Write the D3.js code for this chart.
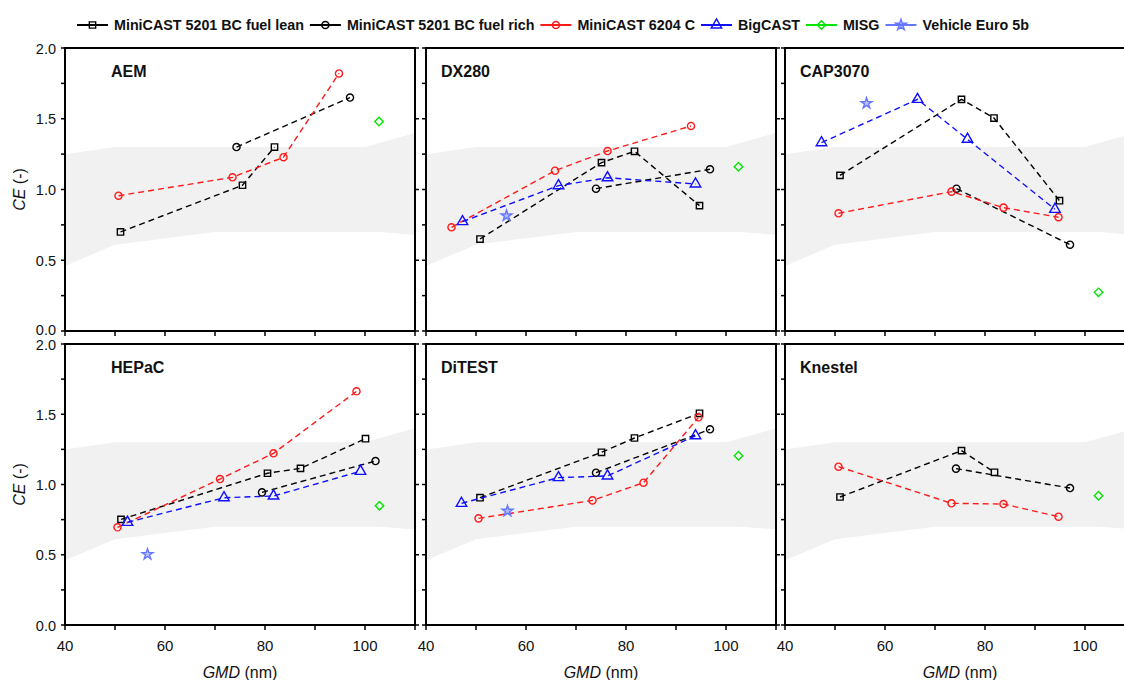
<!DOCTYPE html>
<html><head><meta charset="utf-8">
<script src="https://cdn.jsdelivr.net/npm/d3@7"></script>
<style>body{margin:0;background:#fff}svg{display:block;font-family:"Liberation Sans",Arial,sans-serif}</style>
</head><body><svg id="c" width="1124" height="680"></svg>
<script>
// ---------- data ----------
const panelNames = ["AEM","DX280","CAP3070","HEPaC","DiTEST","Knestel"];
const seriesNames = ["MiniCAST 5201 BC fuel lean","MiniCAST 5201 BC fuel rich","MiniCAST 6204 C","BigCAST","MISG","Vehicle Euro 5b"];
// per panel: GMD (nm) and CE (-)
const leanGMD = [[51.1,75.5,81.9],[50.8,75.1,81.7,94.7],[51.0,75.3,81.8,94.9],[51.2,80.5,87.1,100.1],[50.8,75.1,81.7,94.7],[51.0,75.3,81.9]];
const leanCE  = [[0.70,1.03,1.30],[0.65,1.19,1.27,0.886],[1.10,1.637,1.505,0.921],[0.752,1.08,1.115,1.326],[0.906,1.229,1.331,1.507],[0.911,1.241,1.087]];
const richGMD = [[74.3,97.0],[74.0,96.8],[74.3,97.0],[79.4,102.1],[74.0,96.8],[74.2,97.0]];
const richCE  = [[1.30,1.65],[1.006,1.143],[1.006,0.61],[0.944,1.167],[1.084,1.393],[1.113,0.975]];
const c6204GMD = [[50.7,73.5,83.7,94.8],[45.1,65.8,76.3,93.0],[50.7,73.3,83.7,94.7],[50.5,71.0,81.7,98.3],[50.5,73.3,83.5,94.5],[50.7,73.3,83.7,94.7]];
const c6204CE  = [[0.956,1.086,1.228,1.82],[0.733,1.133,1.272,1.449],[0.832,0.985,0.872,0.804],[0.695,1.039,1.222,1.663],[0.759,0.887,1.013,1.478],[1.127,0.866,0.861,0.771]];
const bigGMD = [[],[47.3,66.5,76.3,93.9],[47.3,66.5,76.5,94.0],[52.5,71.8,81.7,99.1],[47.1,66.5,76.3,93.9],[]];
const bigCE  = [[],[0.773,1.027,1.083,1.039],[1.331,1.637,1.355,0.86],[0.731,0.906,0.918,1.094],[0.866,1.049,1.061,1.347],[]];
const misgGMD = [[102.8],[102.5],[102.7],[102.9],[102.5],[102.7]];
const misgCE  = [[1.48],[1.161],[0.273],[0.849],[1.205],[0.920]];
const vehGMD = [[],[56.1],[56.3],[56.5],[56.3],[]];
const vehCE  = [[],[0.815],[1.609],[0.503],[0.811],[]];
// grey band
const bandUpGMD = [40,50,100,110];
const bandUpCE  = [1.25,1.30,1.30,1.40];
const bandLoGMD = [40,50,70,103,110];
const bandLoCE  = [0.46,0.61,0.70,0.70,0.68];
const xMajor = [40,60,80,100];
const xMinor = [50,70,90,110];
const yMajor = [0,0.5,1.0,1.5,2.0];
const yMinor = [0.25,0.75,1.25,1.75];

// ---------- styles ----------
const sty = [
 {color:"#000",sym:"square",line:true},
 {color:"#000",sym:"circle",line:true},
 {color:"#ff1a1a",sym:"circle",line:true},
 {color:"#1010ff",sym:"triangle",line:true},
 {color:"#00e600",sym:"diamond",line:false},
 {color:"#6677ff",sym:"star",line:false}
];
const seriesGMD=[leanGMD,richGMD,c6204GMD,bigGMD,misgGMD,vehGMD];
const seriesCE=[leanCE,richCE,c6204CE,bigCE,misgCE,vehCE];

const svg=d3.select("#c");
const colX=[65,426,785], W=350;
const rowY=[[48,331],[344,625]];

function symPath(s){
  if(s==="square") return d3.symbol(d3.symbolSquare,40)();
  if(s==="circle") return d3.symbol(d3.symbolCircle,40)();
  if(s==="triangle") return d3.symbol(d3.symbolTriangle,48)();
  if(s==="diamond") return d3.symbol(d3.symbolSquare,36)();
  if(s==="star") return d3.symbol(d3.symbolStar,36)();
}
function drawMarker(g,x,y,st){
  g.append("path").attr("d",symPath(st.sym))
   .attr("transform",`translate(${x},${y})`+(st.sym==="diamond"?" rotate(45)":""))
   .attr("fill",st.sym==="star"?st.color:"none").attr("fill-opacity",st.sym==="star"?0.45:1)
   .attr("stroke",st.color).attr("stroke-width",1.4);
}

panelNames.forEach((name,i)=>{
  const c=i%3, r=Math.floor(i/3);
  const x0=colX[c], y0=rowY[r][0], y1=rowY[r][1];
  const x=d3.scaleLinear().domain([40,110]).range([x0,x0+W]);
  const y=d3.scaleLinear().domain([0,2]).range([y1,y0]);
  const g=svg.append("g");
  const cid="clip"+i;
  g.append("clipPath").attr("id",cid).append("rect").attr("x",x0).attr("y",y0).attr("width",W).attr("height",y1-y0);
  // band
  const up=bandUpGMD.map((v,k)=>[x(v),y(bandUpCE[k])]);
  const lo=bandLoGMD.map((v,k)=>[x(v),y(bandLoCE[k])]).reverse();
  g.append("path").attr("d","M"+up.concat(lo).map(p=>p.join(",")).join("L")+"Z")
   .attr("fill","#f1f1f1").attr("clip-path",`url(#${cid})`);
  // series
  const line=d3.line().x(d=>x(d[0])).y(d=>y(d[1]));
  sty.forEach((st,s)=>{
    const pts=seriesGMD[s][i].map((v,k)=>[v,seriesCE[s][i][k]]);
    if(st.line && pts.length>1)
      g.append("path").attr("d",line(pts)).attr("fill","none").attr("stroke",st.color)
       .attr("stroke-width",1.4).attr("stroke-dasharray","6,4");
    pts.forEach(p=>drawMarker(g,x(p[0]),y(p[1]),st));
  });
  // frame
  g.append("rect").attr("x",x0).attr("y",y0).attr("width",W).attr("height",y1-y0)
   .attr("fill","none").attr("stroke","#000").attr("stroke-width",2);
  // ticks
  const tk=g.append("g").attr("stroke","#000").attr("stroke-width",1.5);
  xMajor.concat(xMinor).forEach(v=>tk.append("line").attr("x1",x(v)).attr("x2",x(v)).attr("y1",y1).attr("y2",y1+5));
  yMajor.concat(yMinor).forEach(v=>tk.append("line").attr("x1",x0).attr("x2",x0-4).attr("y1",y(v)).attr("y2",y(v)));
  yMajor.forEach(v=>tk.append("line").attr("x1",x0+W).attr("x2",x0+W+4).attr("y1",y(v)).attr("y2",y(v)));
  if(c===0){
    yMajor.forEach(v=>g.append("text").attr("x",x0-9).attr("y",y(v)+(r===0&&v===0?3.5:5.5)).attr("text-anchor","end")
      .attr("font-size",14.5).attr("fill","#111").text(d3.format(".1f")(v)));
    const lab=g.append("text").attr("transform",`translate(25,${(y0+y1)/2}) rotate(-90)`)
      .attr("text-anchor","middle").attr("font-size",16).attr("fill","#111");
    lab.append("tspan").attr("font-style","italic").text("CE");
    lab.append("tspan").text(" (-)");
  }
  if(r===1){
    xMajor.forEach(v=>g.append("text").attr("x",x(v)).attr("y",y1+26).attr("text-anchor","middle")
      .attr("font-size",15).attr("fill","#111").text(v));
    const lab=g.append("text").attr("x",x0+W/2).attr("y",y1+53).attr("text-anchor","middle")
      .attr("font-size",16).attr("fill","#111");
    lab.append("tspan").attr("font-style","italic").text("GMD");
    lab.append("tspan").text(" (nm)");
  }
  g.append("text").attr("x",x0+(c===0?46:15)).attr("y",y0+29).attr("font-size",16)
   .attr("font-weight","bold").attr("fill","#111").text(name);
});

// legend
let lx=77; const ly=25;
seriesNames.forEach((n,s)=>{
  const st=sty[s];
  const g=svg.append("g");
  g.append("line").attr("x1",lx).attr("x2",lx+31).attr("y1",ly).attr("y2",ly).attr("stroke",st.color).attr("stroke-width",2);
  drawMarker(g,lx+15.5,ly,st);
  const t=g.append("text").attr("x",lx+37).attr("y",ly+5).attr("font-size",14.3).attr("font-weight","bold").attr("fill","#111").text(n);
  lx+=37+t.node().getComputedTextLength()+6;
});
</script></body></html>
